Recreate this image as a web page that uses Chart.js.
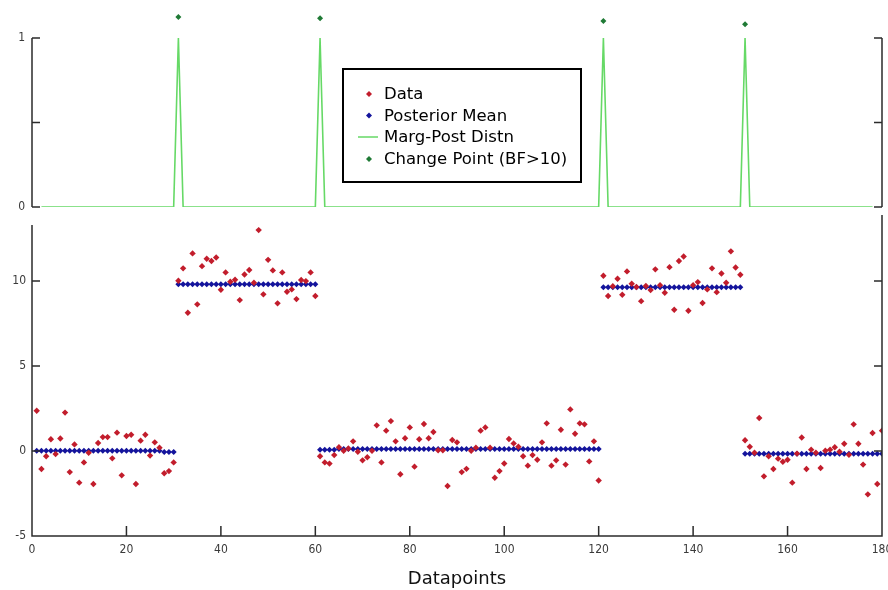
<!DOCTYPE html>
<html><head><meta charset="utf-8">
<script src="https://cdn.jsdelivr.net/npm/chart.js@4.4.1/dist/chart.umd.min.js"></script>
<style>
html,body{margin:0;padding:0;background:#fff;}
#wrap{position:relative;width:888px;height:590px;overflow:hidden;background:#fff;}
#top{position:absolute;left:0;top:0;}
#bot{position:absolute;left:0;top:212px;}
</style></head><body>
<div id="wrap"><canvas id="top" width="888" height="212"></canvas><canvas id="bot" width="888" height="378"></canvas></div>
<script>
// ---- data ----
const observed = [
 2.37,-1.06,-0.31,0.69,-0.18,0.74,2.26,-1.24,0.39,-1.86,
 -0.67,-0.1,-1.94,0.47,0.82,0.82,-0.43,1.08,-1.43,0.88,
 0.96,-1.94,0.61,0.96,-0.27,0.51,0.2,-1.31,-1.18,-0.67,
 10.02,10.75,8.14,11.63,8.63,10.88,11.31,11.18,11.39,9.49,
 10.51,9.96,10.08,8.88,10.39,10.65,9.9,13.0,9.22,11.25,
 10.63,8.69,10.51,9.37,9.51,8.94,10.06,10.0,10.51,9.12,
 -0.31,-0.67,-0.74,-0.24,0.22,0.02,0.15,0.57,-0.04,-0.55,
 -0.37,0.02,1.51,-0.67,1.2,1.76,0.57,-1.37,0.75,1.39,
 -0.92,0.69,1.59,0.75,1.12,0.05,0.05,-2.06,0.65,0.51,
 -1.24,-1.05,0.02,0.2,1.2,1.39,0.2,-1.57,-1.18,-0.73,
 0.71,0.45,0.25,-0.31,-0.86,-0.24,-0.51,0.51,1.63,-0.86,
 -0.55,1.25,-0.8,2.45,1.02,1.63,1.57,-0.61,0.57,-1.73,
 10.31,9.12,9.7,10.14,9.2,10.57,9.84,9.65,8.82,9.71,
 9.47,10.69,9.76,9.31,10.82,8.31,11.18,11.45,8.25,9.76,
 9.94,8.71,9.51,10.75,9.35,10.45,9.9,11.75,10.8,10.37,
 0.63,0.25,-0.1,1.94,-1.49,-0.31,-1.06,-0.45,-0.63,-0.51,
 -1.86,-0.15,0.8,-1.06,0.08,-0.1,-1.0,0.02,0.08,0.22,
 -0.04,0.43,-0.22,1.57,0.43,-0.8,-2.55,1.06,-1.94,1.2
];
const posteriorMean = [
 0.02,0.02,0.02,0.02,0.02,0.02,0.02,0.02,0.02,0.02,
 0.02,0.02,0.02,0.02,0.02,0.02,0.02,0.02,0.02,0.02,
 0.02,0.02,0.02,0.02,0.02,0.02,0.02,-0.06,-0.06,-0.06,
 9.82,9.82,9.82,9.82,9.82,9.82,9.82,9.82,9.82,9.82,
 9.82,9.82,9.82,9.82,9.82,9.82,9.82,9.82,9.82,9.82,
 9.82,9.82,9.82,9.82,9.82,9.82,9.82,9.82,9.82,9.82,
 0.08,0.08,0.08,0.08,0.12,0.12,0.12,0.12,0.12,0.12,
 0.12,0.12,0.12,0.12,0.12,0.12,0.12,0.12,0.12,0.12,
 0.12,0.12,0.12,0.12,0.12,0.12,0.12,0.12,0.12,0.12,
 0.12,0.12,0.12,0.12,0.12,0.12,0.12,0.12,0.12,0.12,
 0.12,0.12,0.12,0.12,0.12,0.12,0.12,0.12,0.12,0.12,
 0.12,0.12,0.12,0.12,0.12,0.12,0.12,0.12,0.12,0.12,
 9.63,9.63,9.63,9.63,9.63,9.63,9.63,9.63,9.63,9.63,
 9.63,9.63,9.63,9.63,9.63,9.63,9.63,9.63,9.63,9.63,
 9.63,9.63,9.63,9.63,9.63,9.63,9.63,9.63,9.63,9.63,
 -0.16,-0.16,-0.16,-0.16,-0.16,-0.16,-0.16,-0.16,-0.16,-0.16,
 -0.16,-0.16,-0.16,-0.16,-0.16,-0.16,-0.16,-0.16,-0.16,-0.16,
 -0.16,-0.16,-0.16,-0.16,-0.16,-0.16,-0.16,-0.16,-0.16,-0.16
];
// marginal posterior distribution of change points (line vertices)
const margPostX = [2, 30, 31, 32, 60, 61, 62, 120, 121, 122, 150, 151, 152, 178];
const margPostY = [0, 0, 1, 0, 0, 1, 0, 0, 1, 0, 0, 1, 0, 0];
// detected change points (BF>10)
const changeX = [31, 61, 121, 151];
const changeY = [1.125, 1.117, 1.10, 1.081];
const xTickValues = [0, 20, 40, 60, 80, 100, 120, 140, 160, 180];
const yTickValuesBottom = [-5, 0, 5, 10];
const yTickValuesTop = [0, 0.5, 1];
const legendLabels = ['Data', 'Posterior Mean', 'Marg-Post Distn', 'Change Point (BF>10)'];

const RED = '#c21d2c', BLUE = '#14149c', GREEN = '#66d966', DGREEN = '#1f7a35', AXIS = '#2b2b2b';
const tickFont = {family: "'DejaVu Sans Condensed','Liberation Sans Narrow','Liberation Sans',Arial,sans-serif", size: 12};
const TICKCOL = '#3a3a3a';

function diamond(ctx, x, y, r, col) {
  ctx.beginPath(); ctx.moveTo(x, y - r); ctx.lineTo(x + r, y); ctx.lineTo(x, y + r); ctx.lineTo(x - r, y); ctx.closePath();
  ctx.fillStyle = col; ctx.fill();
}

Chart.defaults.animation = false;

// ---- top panel ----
const topAxes = {
  id: 'topAxes',
  afterDraw(c) {
    const {ctx, chartArea: a, scales: {y}} = c;
    const y1 = y.getPixelForValue(1), y0 = y.getPixelForValue(0);
    ctx.save();
    ctx.strokeStyle = AXIS; ctx.lineWidth = 1.5;
    ctx.beginPath();
    ctx.moveTo(a.left, y1); ctx.lineTo(a.left, y0);
    ctx.moveTo(a.right, y1); ctx.lineTo(a.right, y0);
    for (const t of yTickValuesTop) {
      const py = y.getPixelForValue(t);
      ctx.moveTo(a.left, py); ctx.lineTo(a.left + 8, py);
      ctx.moveTo(a.right, py); ctx.lineTo(a.right - 8, py);
    }
    ctx.stroke();
    // legend box
    const bx = 343, by = 69, bw = 238, bh = 113;
    ctx.fillStyle = '#fff'; ctx.fillRect(bx, by, bw, bh);
    ctx.strokeStyle = '#000'; ctx.lineWidth = 2; ctx.strokeRect(bx, by, bw, bh);
    const rows = [94, 115.5, 137, 159];
    ctx.font = "16.5px 'DejaVu Sans', sans-serif";
    ctx.textBaseline = 'middle';
    diamond(ctx, 369, rows[0], 3, RED);
    diamond(ctx, 369, rows[1], 3, BLUE);
    ctx.strokeStyle = GREEN; ctx.lineWidth = 1.5;
    ctx.beginPath(); ctx.moveTo(358, rows[2]); ctx.lineTo(378, rows[2]); ctx.stroke();
    diamond(ctx, 369, rows[3], 3, DGREEN);
    ctx.fillStyle = '#000';
    legendLabels.forEach((t, i) => ctx.fillText(t, 384, rows[i] + 1));
    ctx.restore();
  }
};

new Chart(document.getElementById('top'), {
  type: 'scatter',
  data: {
    datasets: [
      {label: 'Change Point (BF>10)', data: changeX.map((x, i) => ({x, y: changeY[i]})),
       pointStyle: 'rectRot', pointRadius: 3, backgroundColor: DGREEN, borderWidth: 0, order: 0},
      {type: 'line', label: 'Marg-Post Distn', data: margPostX.map((x, i) => ({x, y: margPostY[i]})),
       borderColor: GREEN, borderWidth: 1.6, pointRadius: 0, fill: false, tension: 0, order: 1}
    ]
  },
  options: {
    responsive: false, animation: false,
    layout: {padding: {top: 4.2, right: 6, bottom: 5, left: 0}},
    plugins: {legend: {display: false}, tooltip: {enabled: false}},
    scales: {
      x: {type: 'linear', min: 0, max: 180, display: false},
      y: {type: 'linear', min: 0, max: 1.2,
          grid: {display: false, drawTicks: false}, border: {display: false},
          ticks: {stepSize: 0.5, padding: 7, color: TICKCOL, font: tickFont, includeBounds: false,
                  callback: v => (v === 0 || v === 1) ? String(v) : ''},
          afterFit: s => { s.width = 32; s.paddingTop = 0; s.paddingBottom = 0; }}
    }
  },
  plugins: [topAxes]
});

// ---- bottom panel ----
const botAxes = {
  id: 'botAxes',
  afterDraw(c) {
    const {ctx, chartArea: a, scales: {x, y}} = c;
    ctx.save();
    ctx.strokeStyle = AXIS; ctx.lineWidth = 1.5;
    ctx.beginPath();
    ctx.moveTo(a.left, a.top); ctx.lineTo(a.left, a.bottom); ctx.lineTo(a.right, a.bottom); ctx.lineTo(a.right, 3);
    for (const t of xTickValues) {
      const px = x.getPixelForValue(t);
      ctx.moveTo(px, a.bottom); ctx.lineTo(px, a.bottom - 10);
    }
    for (const t of yTickValuesBottom) {
      const py = y.getPixelForValue(t);
      ctx.moveTo(a.left, py); ctx.lineTo(a.left + 8, py);
      ctx.moveTo(a.right, py); ctx.lineTo(a.right - 8, py);
    }
    ctx.stroke();
    ctx.restore();
  }
};

new Chart(document.getElementById('bot'), {
  type: 'scatter',
  data: {
    datasets: [
      {label: 'Data', data: observed.map((v, i) => ({x: i + 1, y: v})),
       pointStyle: 'rectRot', pointRadius: 3.2, backgroundColor: RED, borderWidth: 0, order: 0},
      {label: 'Posterior Mean', data: posteriorMean.map((v, i) => ({x: i + 1, y: v})),
       pointStyle: 'rectRot', pointRadius: 3, backgroundColor: BLUE, borderWidth: 0, order: 1}
    ]
  },
  options: {
    responsive: false, animation: false,
    layout: {padding: {top: 13, right: 6, bottom: 0, left: 0}},
    plugins: {legend: {display: false}, tooltip: {enabled: false}},
    scales: {
      x: {type: 'linear', min: 0, max: 180,
          grid: {display: false, drawTicks: false}, border: {display: false},
          ticks: {stepSize: 20, padding: 7, color: TICKCOL, font: tickFont, maxRotation: 0,
                  callback: v => xTickValues.includes(v) ? String(v) : ''},
          title: {display: true, text: 'Datapoints', color: '#111',
                  font: {family: "'DejaVu Sans', sans-serif", size: 18}, padding: {top: 8, bottom: 0}},
          afterFit: s => { s.height = 54; s.paddingLeft = 0; s.paddingRight = 0; }},
      y: {type: 'linear', min: -5, max: 13.3,
          grid: {display: false, drawTicks: false}, border: {display: false},
          ticks: {stepSize: 5, padding: 6, color: TICKCOL, font: tickFont, includeBounds: false,
                  callback: v => yTickValuesBottom.includes(v) ? String(v) : ''},
          afterFit: s => { s.width = 32; s.paddingTop = 0; s.paddingBottom = 0; }}
    }
  },
  plugins: [botAxes]
});
</script>
</body></html>
